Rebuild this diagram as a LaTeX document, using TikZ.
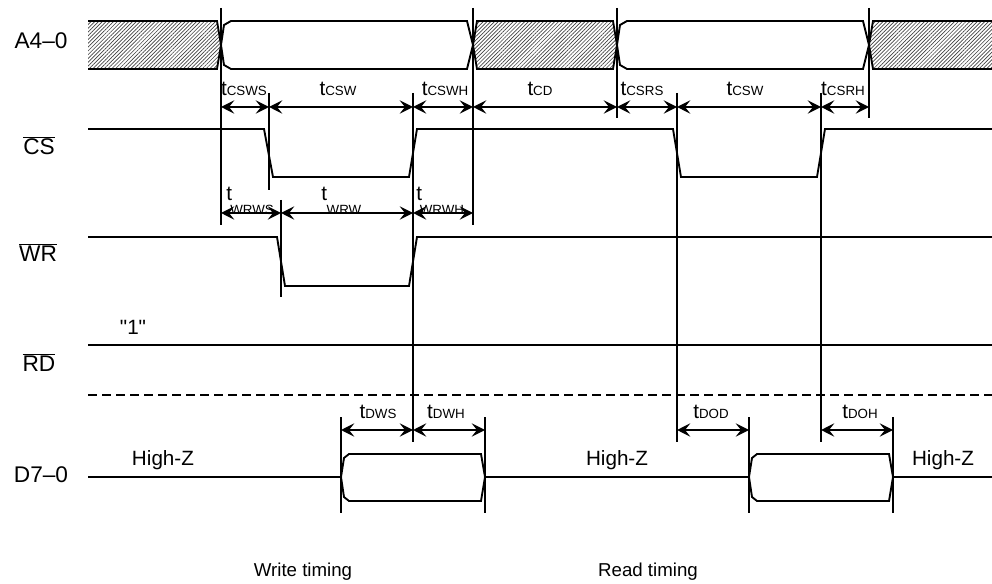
\documentclass[tikz,border=0pt]{standalone}
\usepackage{fontspec}
\setmainfont{Liberation Sans}
\newfontfamily\rawfont{Liberation Sans}
\usetikzlibrary{arrows.meta,patterns.meta}

\newcommand{\tsub}[1]{t{\fontsize{10}{10}\selectfont #1}}

\begin{document}
\begin{tikzpicture}[x=0.75pt, y=-0.75pt,
        >={Stealth[length=10pt,width=10pt,inset=4pt]},
        sig/.style={black, line width=1.4pt},
        guide/.style={black, line width=1.2pt},
        dimarrow/.style={black, line width=1.2pt, <->},
        hatch/.style={pattern={Lines[angle=45,distance=2pt,line width=0.5pt]}, pattern color=black!75},
        siglabel/.style={anchor=base, inner sep=0pt, font=\fontsize{17}{20}\selectfont},
        tlabel/.style={anchor=base, inner sep=0pt, font=\fontsize{15.5}{18}\selectfont},
        sublabel/.style={anchor=base, inner sep=0pt, font=\fontsize{10}{12}\selectfont},
        note/.style={anchor=base, inner sep=0pt, font=\fontsize{15.5}{18}\selectfont}]
        \useasboundingbox (0,0) rectangle (992,584);

        % address bus
        \fill [hatch] (88,21) -- (217,21) -- (221,45) -- (217,69) -- (88,69) -- cycle;
        \draw [sig] (88,21) -- (217,21) -- (221,45) -- (217,69) -- (88,69);
        \draw [sig] (221,45) -- (224,25) -- (231,21) -- (467,21) -- (473,45) -- (467,69) -- (231,69) -- (224,65) -- cycle;
        \draw [sig, hatch] (473,45) -- (477,21) -- (613,21) -- (617,45) -- (613,69) -- (477,69) -- cycle;
        \draw [sig] (617,45) -- (620,25) -- (627,21) -- (863,21) -- (869,45) -- (863,69) -- (627,69) -- (620,65) -- cycle;
        \fill [hatch] (869,45) -- (873,21) -- (992,21) -- (992,69) -- (873,69) -- cycle;
        \draw [sig] (992,21) -- (873,21) -- (869,45) -- (873,69) -- (992,69);

        % control lines
        \draw [sig] (88,129) -- (264,129) -- (273,177) -- (409,177) -- (417,129) -- (673,129) -- (681,177) -- (817,177) -- (825,129) -- (992,129);
        \draw [sig] (88,237) -- (277,237) -- (285,286) -- (409,286) -- (417,237) -- (992,237);
        \draw [sig] (88,345) -- (992,345);
        \draw [sig, dash pattern=on 6.75pt off 3.75pt] (88,395) -- (992,395);

        % data bus
        \draw [sig] (88,477) -- (341,477);
        \draw [sig] (341,477) -- (344,458) -- (349,454) -- (481,454) -- (485,477) -- (481,501) -- (349,501) -- (344,497) -- cycle;
        \draw [sig] (485,477) -- (749,477);
        \draw [sig] (749,477) -- (752,458) -- (757,454) -- (889,454) -- (893,477) -- (889,501) -- (757,501) -- (752,497) -- cycle;
        \draw [sig] (893,477) -- (992,477);

        % guide lines
        \foreach \x/\ya/\yb in {221/8/225, 473/8/225, 617/8/118, 869/8/118,
                269/93/190, 413/93/442, 677/93/442, 821/93/442, 281/200/297,
                341/417/513, 485/417/513, 749/417/513, 893/417/513}
            \draw [guide] (\x,\ya) -- (\x,\yb);

        % timing arrows
        \foreach \a/\b/\y in {221/269/107, 269/413/107, 413/473/107, 473/617/107,
                617/677/107, 677/821/107, 821/869/107,
                221/281/213, 281/413/213, 413/473/213,
                341/413/430, 413/485/430, 677/749/430, 821/893/430}
            \draw [dimarrow] (\a,\y) -- (\b,\y);

        % signal names
        \node [siglabel] (a40) at (41,49) {A4--0};
        \node [siglabel] (cs) at (39,155) {$\overline{\mbox{CS}}$};
        \node [siglabel] (wr) at (38,262) {$\overline{\mbox{WR}}$};
        \node [siglabel] (rd) at (39,372) {$\overline{\mbox{RD}}$};
        \node [siglabel] (d70) at (41,482) {D7--0};
        \node [note] (one) at (133,335) {\rawfont "1"};

        % timing names
        \node [tlabel] (tcsws) at (244,96) {\tsub{CSWS}};
        \node [tlabel] (tcsw) at (338,96) {\tsub{CSW}};
        \node [tlabel] (tcswh) at (445,96) {\tsub{CSWH}};
        \node [tlabel] (tcd) at (540,96) {\tsub{CD}};
        \node [tlabel] (tcsrs) at (642,96) {\tsub{CSRS}};
        \node [tlabel] (tcswr) at (745,96) {\tsub{CSW}};
        \node [tlabel] (tcsrh) at (843,96) {\tsub{CSRH}};
        \node [tlabel, anchor=base west] (twrws) at (226,201) {t};
        \node [sublabel] (swrws) at (252,215) {WRWS};
        \node [tlabel, anchor=base west] (twrw) at (321,201) {t};
        \node [sublabel] (swrw) at (344,215) {WRW};
        \node [tlabel, anchor=base west] (twrwh) at (416,201) {t};
        \node [sublabel] (swrwh) at (442,215) {WRWH};
        \node [tlabel] (tdws) at (378,418) {\tsub{DWS}};
        \node [tlabel] (tdwh) at (446,418) {\tsub{DWH}};
        \node [tlabel] (tdod) at (711,418) {\tsub{DOD}};
        \node [tlabel] (tdoh) at (860,418) {\tsub{DOH}};

        % bus states and captions
        \node [note] (hz1) at (163,465) {High-Z};
        \node [note] (hz2) at (617,465) {High-Z};
        \node [note] (hz3) at (943,465) {High-Z};
        \node [note, font=\fontsize{14}{16}\selectfont] (wtime) at (303,576) {Write timing};
        \node [note, font=\fontsize{14}{16}\selectfont] (rtime) at (648,576) {Read timing};
    \end{tikzpicture}
\end{document}
